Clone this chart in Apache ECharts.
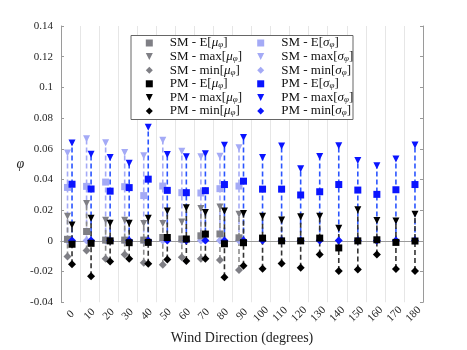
<!DOCTYPE html>
<html>
<head>
<meta charset="utf-8">
<script src="https://cdn.jsdelivr.net/npm/echarts@6/dist/echarts.min.js"></script>
<style>html,body{margin:0;padding:0;background:#fff;}#c{width:467px;height:350px;}</style>
</head>
<body>
<div id="c"></div>
<script>
const categories = ['0','10','20','30','40','50','60','70','80','90','100','110','120','130','140','150','160','170','180'];
const yTicks = { min: -0.04, max: 0.14, step: 0.02 };

// SM (available for 0..90)
const smMuE   = [0.001, 0.0061, 0.0005, 0.0005, 0.0005, 0.0022, 0.0012, 0.0033, 0.0045, 0.002];
const smMuMax = [0.016, 0.0243, 0.0134, 0.0135, 0.0113, 0.0113, 0.0123, 0.0211, 0.022, 0.0174];
const smMuMin = [-0.0102, -0.0063, -0.0117, -0.0089, -0.0143, -0.0155, -0.0106, -0.0117, -0.0125, -0.019];
const smSgE   = [0.0348, 0.0355, 0.0383, 0.0353, 0.0295, 0.0357, 0.0314, 0.0312, 0.034, 0.0357];
const smSgMax = [0.0572, 0.0666, 0.064, 0.0575, 0.0554, 0.0655, 0.0584, 0.0548, 0.0552, 0.0607];
const smSgMin = [0.0003, 0.0003, 0.0003, 0.0003, 0.0003, 0.0003, 0.0003, 0.0003, 0.0003, 0.0003];

// PM (all directions)
const pmMuE   = [-0.0022, -0.0016, 0, -0.0012, -0.001, 0.0022, 0.0012, 0.0044, -0.0019, -0.0012, 0.0018, 0, 0, 0.0018, -0.0046, 0, 0.0007, -0.001, -0.0001];
const pmMuMax = [0.0104, 0.0147, 0.0115, 0.0115, 0.0147, 0.0194, 0.0215, 0.0185, 0.0194, 0.0179, 0.016, 0.0136, 0.0157, 0.016, 0.0082, 0.0202, 0.0132, 0.0129, 0.0174];
const pmMuMin = [-0.0153, -0.023, -0.0134, -0.0117, -0.0149, -0.0121, -0.0132, -0.0117, -0.0237, -0.0162, -0.0181, -0.0147, -0.0175, -0.0089, -0.0196, -0.0186, -0.0089, -0.0183, -0.0196];
const pmSgE   = [0.0369, 0.0338, 0.0324, 0.0347, 0.0402, 0.0329, 0.0314, 0.0327, 0.0367, 0.0389, 0.0337, 0.0337, 0.0299, 0.032, 0.0367, 0.0331, 0.0303, 0.0333, 0.0367];
const pmSgMax = [0.0637, 0.0565, 0.0543, 0.0505, 0.074, 0.0563, 0.0548, 0.0567, 0.0623, 0.0674, 0.0543, 0.0618, 0.047, 0.055, 0.062, 0.0524, 0.049, 0.0534, 0.0624];
const pmSgMin = [0.0003, 0.0003, 0.0003, 0.0003, 0.0003, 0.0003, 0.0003, 0.0003, 0.0003, 0.0003, 0.0003, 0.0003, 0.0003, 0.0003, 0.0003, 0.0003, 0.0003, 0.0003, 0.0003];

const SERIF = '"Liberation Serif", "DejaVu Serif", serif';
const C = {
  smMu: '#7f7f85', smMuLine: '#8c8c8c',
  smSg: '#a4aaf6', smSgLine: '#a4aaf6',
  pmMu: '#000000', pmMuLine: '#333333',
  pmSg: '#0a14ff', pmSgLine: '#2b55ff'
};
const DX_SM = -3, DX_PM = 1.5;
const TRI_DOWN = 'path://M0,0L10,0L5,10Z';

function errSeries(minArr, maxArr, color, dx) {
  const data = [];
  minArr.forEach((v, i) => { data.push([i, v, maxArr[i]]); });
  return {
    type: 'custom', xAxisIndex: 0, yAxisIndex: 0, silent: true,
    encode: { x: 0, y: [1, 2] },
    data: data,
    renderItem: function (params, api) {
      const a = api.coord([api.value(0), api.value(1)]);
      const b = api.coord([api.value(0), api.value(2)]);
      return { type: 'line', shape: { x1: a[0] + dx, y1: a[1], x2: b[0] + dx, y2: b[1] },
        style: { stroke: color, lineWidth: 1.6, lineDash: [5, 3] } };
    }
  };
}
function pts(name, arr, color, symbol, dx, size) {
  return {
    type: 'scatter', name: name, data: arr, symbol: symbol, symbolKeepAspect: true,
    symbolSize: size, symbolRotate: symbol === 'triangle' ? 180 : 0,
    symbolOffset: [dx, 0], itemStyle: { color: color, opacity: 1 },
    xAxisIndex: 0, yAxisIndex: 0
  };
}
const N = {
  smE: 'SM - E[μ_φ]', smMax: 'SM - max[μ_φ]', smMin: 'SM - min[μ_φ]',
  pmE: 'PM - E[μ_φ]', pmMax: 'PM - max[μ_φ]', pmMin: 'PM - min[μ_φ]',
  smsE: 'SM - E[σ_φ]', smsMax: 'SM - max[σ_φ]', smsMin: 'SM - min[σ_φ]',
  pmsE: 'PM - E[σ_φ]', pmsMax: 'PM - max[σ_φ]', pmsMin: 'PM - min[σ_φ]'
};
const series = [
  errSeries(smSgMin, smSgMax, C.smSgLine, DX_SM),
  errSeries(smMuMin, smMuMax, C.smMuLine, DX_SM),
  pts(N.smsMax, smSgMax, C.smSg, 'triangle', DX_SM, 7),
  pts(N.smsE, smSgE, C.smSg, 'rect', DX_SM, 7),
  pts(N.smsMin, smSgMin, C.smSg, 'diamond', DX_SM, 8),
  pts(N.smMax, smMuMax, C.smMu, 'triangle', DX_SM, 7),
  pts(N.smE, smMuE, C.smMu, 'rect', DX_SM, 7),
  pts(N.smMin, smMuMin, C.smMu, 'diamond', DX_SM, 8),
  errSeries(pmSgMin, pmSgMax, C.pmSgLine, DX_PM),
  pts(N.pmsMax, pmSgMax, C.pmSg, 'triangle', DX_PM, 7),
  pts(N.pmsE, pmSgE, C.pmSg, 'rect', DX_PM, 7),
  pts(N.pmsMin, pmSgMin, C.pmSg, 'diamond', DX_PM, 8),
  errSeries(pmMuMin, pmMuMax, C.pmMuLine, DX_PM),
  pts(N.pmMax, pmMuMax, C.pmMu, 'triangle', DX_PM, 7),
  pts(N.pmE, pmMuE, C.pmMu, 'rect', DX_PM, 7),
  pts(N.pmMin, pmMuMin, C.pmMu, 'diamond', DX_PM, 8)
];
function fmt(name) {
  return '{p|}' + name.replace(/(μ|σ)_φ/, '{g|$1}{s|φ}');
}
const legendText = {
  fontFamily: SERIF, fontSize: 13, color: '#111', lineHeight: 13,
  rich: {
    p: { width: 12, fontSize: 13, lineHeight: 13 },
    g: { fontFamily: SERIF, fontSize: 13, fontStyle: 'italic', color: '#111', lineHeight: 13 },
    s: { fontFamily: SERIF, fontSize: 9, fontStyle: 'italic', color: '#111', lineHeight: 9, verticalAlign: 'bottom', padding: [4, 0, 0, 0] }
  }
};
function legend(names, left) {
  return {
    orient: 'vertical', left: left, top: 36.5, itemGap: 0.6,
    itemWidth: 7, itemHeight: 7, z: 60,
    data: names.map(n => (/max/.test(n) ? { name: n, icon: TRI_DOWN } : n)),
    formatter: fmt, textStyle: legendText,
    selectedMode: false, padding: 0
  };
}
const axisCol = '#9a9a9a';
const tickStyle = { show: true, inside: true, length: 3, lineStyle: { color: axisCol } };
const option = {
  animation: false,
  backgroundColor: '#fff',
  grid: { left: 61, right: 44, top: 26, bottom: 44 },
  legend: [
    legend([N.smE, N.smMax, N.smMin, N.pmE, N.pmMax, N.pmMin], 145.8),
    legend([N.smsE, N.smsMax, N.smsMin, N.pmsE, N.pmsMax, N.pmsMin], 257.2)
  ],
  graphic: [{
    type: 'rect', z: 50, left: 130.5, top: 35, shape: { width: 222, height: 84 },
    style: { fill: '#fff', stroke: '#666', lineWidth: 1 }
  }],
  xAxis: [{
    type: 'category', data: categories, position: 'bottom', boundaryGap: true,
    name: 'Wind Direction (degrees)', nameLocation: 'middle', nameGap: 23,
    nameTextStyle: { fontFamily: SERIF, fontSize: 14, color: '#222' },
    axisLine: { show: true, lineStyle: { color: axisCol } },
    axisTick: Object.assign({ alignWithLabel: true }, tickStyle),
    axisLabel: { rotate: 45, align: 'center', verticalAlign: 'middle', margin: 12,
      fontFamily: SERIF, fontSize: 11, color: '#262626', interval: 0 },
    splitLine: { show: true, lineStyle: { color: '#e6e6e6', width: 1 } }
  }, {
    type: 'category', data: categories, position: 'top', boundaryGap: true,
    axisLine: { show: true, lineStyle: { color: axisCol } },
    axisTick: Object.assign({ alignWithLabel: true }, tickStyle),
    axisLabel: { show: false }, splitLine: { show: false }
  }],
  yAxis: [{
    type: 'value', min: yTicks.min, max: yTicks.max, interval: yTicks.step, position: 'left',
    name: 'φ', nameLocation: 'middle', nameRotate: 0, nameGap: 35,
    nameTextStyle: { fontFamily: SERIF, fontSize: 14, fontStyle: 'italic', color: '#222' },
    axisLine: { show: true, lineStyle: { color: axisCol } },
    axisTick: tickStyle,
    axisLabel: { fontFamily: SERIF, fontSize: 11, color: '#262626', margin: 8 },
    splitLine: { show: false }
  }, {
    type: 'value', min: yTicks.min, max: yTicks.max, interval: yTicks.step, position: 'right',
    axisLine: { show: true, lineStyle: { color: axisCol } },
    axisTick: tickStyle, axisLabel: { show: false }, splitLine: { show: false }
  }],
  series: series
};
const chart = echarts.init(document.getElementById('c'), null, { renderer: 'canvas' });
chart.setOption(option);
</script>
</body>
</html>
